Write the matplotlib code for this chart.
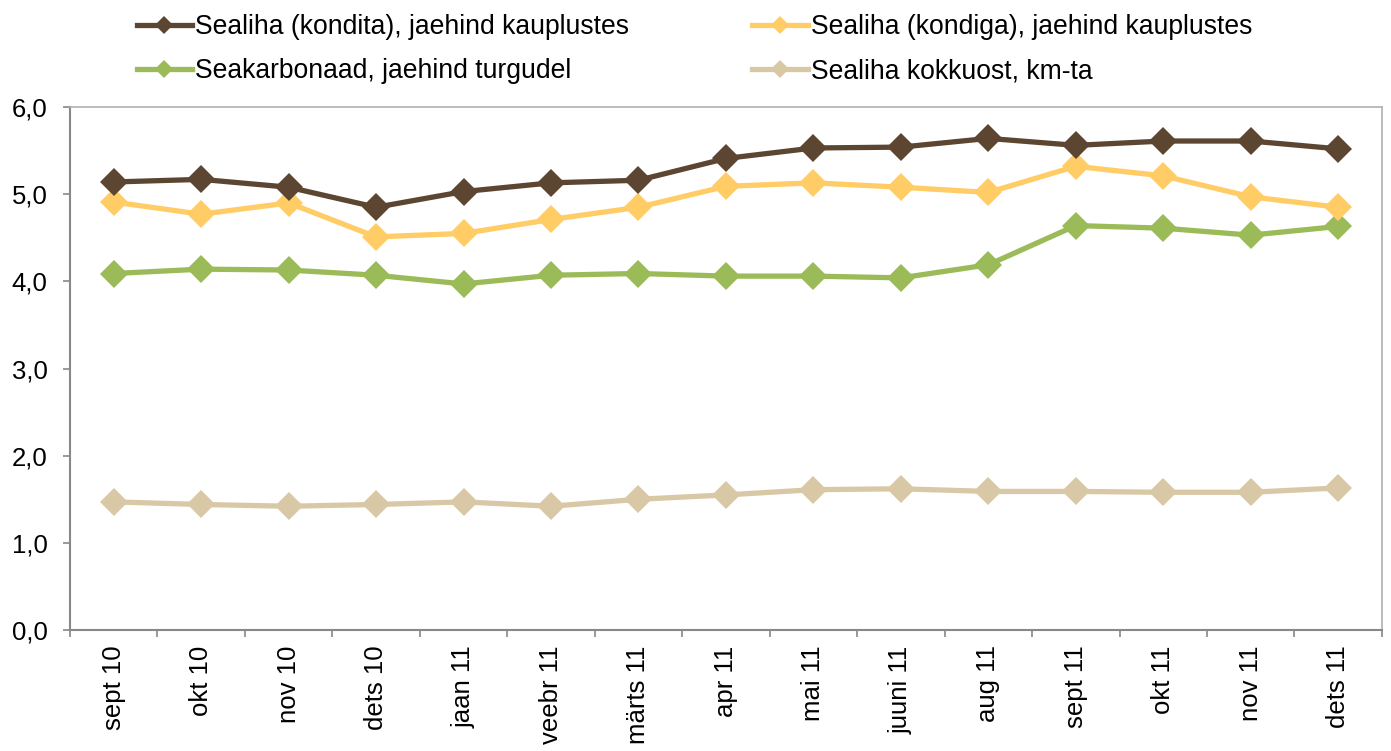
import matplotlib
matplotlib.use('Agg')
import matplotlib.pyplot as plt
from matplotlib.lines import Line2D
from matplotlib.ticker import FuncFormatter, FixedLocator
import numpy as np

plt.rcParams['font.family'] = ['Liberation Sans', 'DejaVu Sans']

months = ['sept 10', 'okt 10', 'nov 10', 'dets 10', 'jaan 11', 'veebr 11', 'märts 11',
          'apr 11', 'mai 11', 'juuni 11', 'aug 11', 'sept 11', 'okt 11', 'nov 11', 'dets 11']

kondita = [5.14, 5.17, 5.08, 4.85, 5.03, 5.13, 5.16, 5.41, 5.53, 5.54, 5.64, 5.56, 5.61, 5.61, 5.52]
kondiga = [4.91, 4.77, 4.90, 4.51, 4.55, 4.71, 4.85, 5.09, 5.13, 5.08, 5.02, 5.32, 5.21, 4.97, 4.85]
karbonaad = [4.09, 4.14, 4.13, 4.07, 3.97, 4.07, 4.09, 4.06, 4.06, 4.04, 4.19, 4.64, 4.61, 4.53, 4.63]
kokkuost = [1.47, 1.44, 1.42, 1.44, 1.47, 1.42, 1.50, 1.55, 1.61, 1.62, 1.59, 1.59, 1.58, 1.58, 1.63]

series = [
    ('Sealiha (kondita), jaehind kauplustes', kondita, '#5C4632'),
    ('Sealiha (kondiga), jaehind kauplustes', kondiga, '#FFCC66'),
    ('Seakarbonaad, jaehind turgudel', karbonaad, '#9BBB59'),
    ('Sealiha kokkuost, km-ta', kokkuost, '#D9C8A5'),
]

FS = 18.5

fig = plt.figure(figsize=(13.91, 7.51), dpi=100)
ax = fig.add_axes([0.0503, 0.1611, 0.9432, 0.6964])

x = np.arange(len(months))
# draw back-to-front so the brown line sits on top
for label, vals, color in reversed(series):
    ax.plot(x, vals, color=color, linewidth=3.8, marker='D', markersize=13.8,
            markeredgewidth=0, solid_joinstyle='round')

ax.set_xlim(-0.5, len(months) - 0.5)
ax.set_ylim(0, 6)
ax.set_yticks(np.arange(0, 7, 1))
ax.yaxis.set_major_formatter(FuncFormatter(lambda v, p: f'{v:.1f}'.replace('.', ',')))

ax.set_xticks(x)
ax.set_xticklabels(months, rotation=90, fontsize=FS)
ax.xaxis.set_minor_locator(FixedLocator(np.arange(-0.5, len(months), 1)))
ax.tick_params(axis='x', which='major', length=0, pad=11)
ax.tick_params(axis='x', which='minor', length=5, direction='out', color='#888888', width=1.2)
ax.tick_params(axis='y', length=5, direction='out', color='#888888', width=1.2,
               labelsize=FS, pad=11)

for side in ['left', 'bottom']:
    ax.spines[side].set_color('#888888')
    ax.spines[side].set_linewidth(1.5)
for side in ['top', 'right']:
    ax.spines[side].set_color('#b0b0b0')
    ax.spines[side].set_linewidth(1.2)

handles = [Line2D([], [], color=c, linewidth=3.8, marker='D', markersize=9, markeredgewidth=0)
           for _, _, c in series]
labels = [s[0] for s in series]
# order for 2 columns: col1 = kondita, karbonaad; col2 = kondiga, kokkuost
order = [0, 2, 1, 3]
fig.legend([handles[i] for i in order], [labels[i] for i in order],
           loc='upper left', bbox_to_anchor=(0.081, 1.013), ncol=2, frameon=False,
           fontsize=19.1, handlelength=2.1, handletextpad=0.1,
           columnspacing=4.65, labelspacing=0.68)

fig.savefig('out.png', dpi=100)
